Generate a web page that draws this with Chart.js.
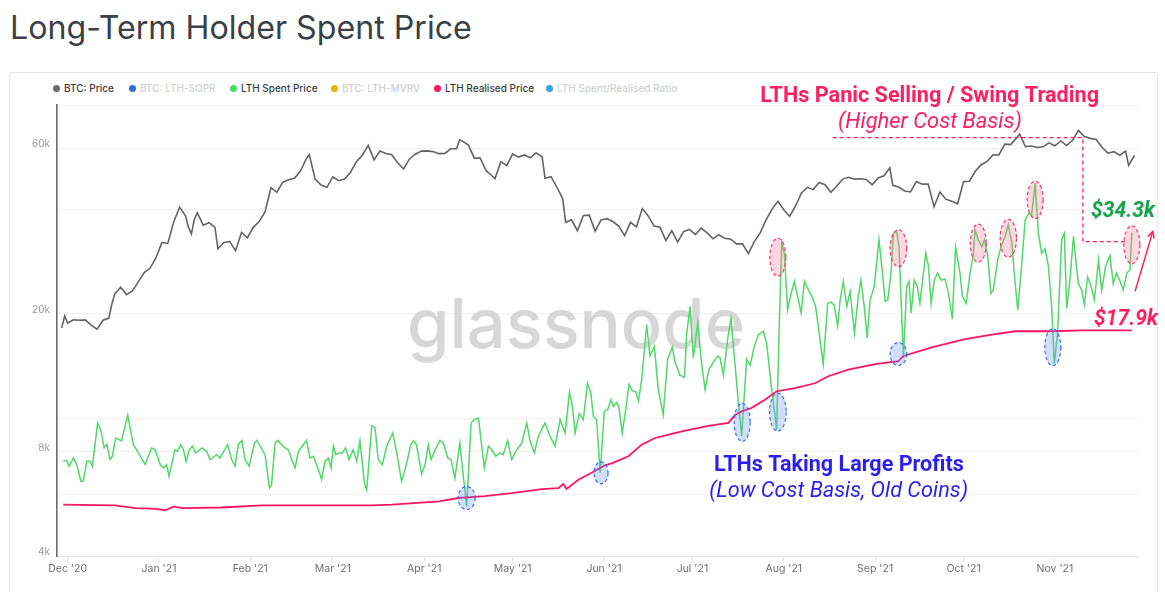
<!DOCTYPE html>
<html><head><meta charset="utf-8">
<script src="https://cdn.jsdelivr.net/npm/chart.js@4.4.1/dist/chart.umd.min.js"></script>
<style>
html,body{margin:0;padding:0;background:#fff;width:1165px;height:592px;overflow:hidden;font-family:Inter,Roboto,sans-serif;}
#title{position:absolute;left:10px;top:8px;color:#3b3f48;font-weight:400;white-space:nowrap;line-height:1;font-family:Inter,sans-serif;}
#card{position:absolute;left:9px;top:72px;width:1147px;height:560px;border:1px solid #e8e8e8;border-radius:3px;}
#chart{position:absolute;left:0;top:0;}
.lg{position:absolute;top:82px;height:12px;font-size:10px;font-weight:500;line-height:12px;white-space:nowrap;font-family:Inter,sans-serif;}
.lg i{position:absolute;width:7px;height:7px;border-radius:50%;top:2.5px;}
</style></head><body>
<div id="title">Long-Term Holder Spent Price</div>
<div id="card"></div>
<div id="legend"></div>
<canvas id="chart" width="1165" height="592"></canvas>
<script>
// ---------------- DATA ----------------
// x values are days since 1 Dec 2020
const monthTickDays = [0, 31, 62, 90, 121, 151, 182, 212, 243, 274, 304, 335];
const monthTickLabels = ["Dec '20", "Jan '21", "Feb '21", "Mar '21", "Apr '21", "May '21", "Jun '21", "Jul '21", "Aug '21", "Sep '21", "Oct '21", "Nov '21"];
const yTickValues = [4000, 6000, 8000, 10000, 20000, 40000, 60000, 80000];
const yTickLabels = ["4k", "", "8k", "", "20k", "", "60k", ""];

const seriesNames = ["BTC: Price", "BTC: LTH-SOPR", "LTH Spent Price", "BTC: LTH-MVRV", "LTH Realised Price", "LTH Spent/Realised Ratio"];
const seriesShown = [true, false, true, false, true, false];

const priceDays = [
  -2, -1, 0, 2, 4, 6, 8, 10, 12, 14, 15, 16, 18, 20, 22, 24, 26, 28, 30,
  32, 34, 36, 38, 40, 41, 42, 43, 44, 46, 48, 50, 51, 53, 55, 57, 59, 61,
  63, 65, 67, 69, 71, 73, 75, 77, 79, 81, 82, 84, 86, 88,
  90, 92, 94, 96, 98, 100, 102, 104, 106, 108, 110, 112, 114, 116, 118, 120,
  122, 124, 126, 128, 130, 132, 133, 134, 136, 138, 140, 142, 144, 145, 147, 149,
  151, 153, 155, 157, 159, 161, 162, 164, 166, 168, 169, 171, 173, 175, 177, 179, 181,
  183, 185, 187, 189, 191, 193, 195, 197, 199, 201, 203, 205, 207, 209, 211,
  213, 215, 217, 219, 221, 223, 225, 227, 229, 231, 233, 235, 237, 239, 241,
  243, 245, 247, 249, 251, 253, 255, 257, 259, 261, 263, 265, 267, 269, 271, 273,
  275, 277, 279, 280, 282, 284, 286, 288, 290, 292, 294, 296, 298, 300, 302,
  304, 306, 308, 310, 312, 314, 316, 318, 320, 322, 323, 325, 327, 329, 331, 333,
  335, 337, 339, 341, 343, 345, 347, 349, 351, 353, 355, 357, 359, 360, 362
];
const priceValues = [
  18200, 19700, 18800, 19200, 19150, 19200, 18550, 18050, 19150, 19430, 21300, 22800, 23850, 22700, 23250, 24700, 26270, 27080, 29000,
  32100, 31900, 36800, 40600, 38300, 35500, 34000, 37400, 39100, 36000, 36600, 35500, 30800, 32100, 32300, 30400, 34300, 33100,
  35500, 36900, 39300, 46200, 44800, 47900, 48700, 49200, 51600, 56000, 57500, 48900, 47000, 46300,
  49600, 48400, 48900, 51200, 54900, 57300, 61200, 55600, 58900, 58000, 57500, 54500, 52300, 55900, 57700, 58900,
  59000, 58700, 57900, 58000, 59800, 59800, 63500, 62900, 61300, 56200, 56200, 51700, 50000, 49000, 54900, 53500,
  57800, 56600, 57400, 56400, 58200, 56700, 49200, 49700, 46400, 42900, 36700, 37300, 34700, 38400, 38500, 34600, 37300,
  37600, 36900, 35800, 33600, 36700, 35600, 40200, 38300, 35800, 35500, 32500, 34700, 32200, 34500, 35000,
  33800, 35300, 34200, 32900, 33800, 33000, 32800, 31800, 31800, 29800, 32300, 34200, 37300, 40000, 42200,
  39900, 38200, 40900, 44600, 46300, 45600, 47800, 47100, 44800, 46700, 48900, 49500, 48900, 49000, 48800, 47100,
  49300, 50000, 52700, 46900, 46400, 45200, 44900, 48100, 47300, 47300, 40700, 44900, 42800, 42200, 41500,
  48100, 48200, 51500, 53800, 55000, 57500, 57400, 61700, 61500, 64300, 66000, 60700, 60900, 60300, 60600, 62200,
  61000, 63000, 61100, 63300, 67600, 64900, 64100, 63600, 60400, 58100, 58700, 57300, 58900, 53600, 57200
];

const spentDays = [
  -1.5, -0.3, 0.5, 2.0, 3.1, 4.5, 5.3, 6.5, 7.6, 8.4, 10.2, 11.3, 12.4, 13.3, 14.4, 15.2, 16.3, 18.3, 20.4, 22.3,
  24.0, 26.3, 28.5, 29.7, 31.4, 32.5, 33.6, 34.4, 36.4, 37.3, 38.4, 39.3, 40.2, 41.3, 42.4, 43.5, 45.5, 47.2, 48.3,
  50.6, 51.7, 54.3, 55.7, 56.8, 57.9, 59.1, 60.2, 61.6, 63.4, 64.2, 67.0, 68.5, 69.2, 70.4, 71.3, 73.8, 74.9, 76.0,
  77.2, 78.3, 81.1, 82.2, 83.4, 85.1, 86.2, 87.3, 88.5, 89.4, 90.2, 91.0, 92.1, 93.2, 94.3, 95.5, 96.9, 98.1, 99.2,
  100.7, 101.5, 103.2, 104.3, 105.4, 106.8, 108.3, 110.3, 111.7, 113.3, 114.5, 116.5, 117.3, 118.4, 120.1, 121.3,
  122.4, 123.3, 124.7, 126.4, 127.5, 129.0, 130.1, 131.4, 133.1, 133.9, 135.4, 136.9, 138.0, 139.4, 141.4, 142.8,
  143.9, 145.3, 146.7, 147.8, 149.3, 150.7, 152.4, 154.1, 155.8, 156.9, 158.4, 159.7, 162.0, 163.7, 165.4, 167.1,
  168.8, 170.3, 171.3, 172.2, 173.6, 175.0, 176.4, 177.5, 178.4, 179.5, 180.7, 182.1, 183.3, 184.4, 185.2, 186.3,
  187.1, 188.2, 189.4, 190.5, 191.6, 192.8, 193.7, 194.8, 196.5, 197.6, 199.1, 200.4, 202.1, 203.6, 205.2, 206.1,
  207.8, 209.3, 210.1, 211.2, 212.3, 213.8, 215.2, 216.3, 217.6, 219.1, 220.6, 221.4, 222.5, 224.0, 225.1, 226.2,
  227.4, 228.7, 230.4, 231.6, 233.0, 234.4, 236.1, 237.2, 238.9, 240.6, 241.4, 242.3, 243.2, 244.3, 245.5, 246.6,
  247.7, 248.9, 250.0, 251.4, 252.5, 253.8, 255.0, 256.4, 257.9, 259.0, 260.1, 261.3, 262.1, 263.2, 264.4, 265.5,
  267.0, 268.3, 269.2, 270.3, 271.3, 272.3, 273.7, 275.3, 276.5, 277.4, 278.3, 279.4, 280.2, 281.3, 282.1, 283.6,
  284.7, 285.5, 286.2, 287.3, 288.3, 289.2, 291.2, 292.1, 293.0, 294.1, 295.2, 296.4, 297.7, 298.9, 300.2, 301.3,
  302.8, 303.6, 304.9, 306.2, 307.3, 307.9, 309.0, 310.2, 311.1, 312.2, 313.3, 314.1, 315.6, 316.7, 318.1, 319.2,
  320.4, 321.2, 322.4, 323.7, 324.9, 326.2, 327.1, 328.3, 329.4, 330.5, 331.7, 332.8, 333.9, 334.8, 335.9, 337.3,
  338.2, 339.0, 340.1, 341.3, 342.1, 343.0, 344.1, 345.0, 346.1, 347.3, 348.4, 349.8, 350.9, 352.2, 353.7, 354.8,
  355.9, 357.1, 358.2, 359.4, 360.5, 361.1
];
const spentValues = [
  7500, 7550, 7260, 7670, 7340, 6570, 6570, 7500, 7500, 7260, 9680, 9200, 8200, 8400, 7600, 7760, 8760, 8600, 10200, 8380,
  7950, 7340, 8200, 8100, 7340, 7180, 7340, 6790, 8100, 8020, 8380, 8100, 7500, 8100, 8300, 7930, 8200, 8020, 7590,
  7840, 7670, 8380, 7590, 7260, 8380, 8620, 7590, 7260, 8470, 8620, 7840, 6280, 6430, 8470, 8620, 8200, 8100, 7590,
  7180, 8020, 8620, 7670, 7760, 7100, 6640, 7500, 7670, 7180, 8300, 7840, 7930, 7930, 8200, 7590, 8100, 7500, 8600,
  6500, 6200, 9500, 9400, 7590, 7340, 8300, 9060, 7930, 6570, 7100, 8380, 8600, 8380, 6900, 7340,
  8380, 7590, 8100, 8620, 8470, 7670, 7590, 6700, 8470, 7260, 5570, 9680, 9900, 10000, 7180, 8300,
  8100, 7760, 7930, 7840, 8600, 7590, 8100, 8470, 9680, 8600, 7930, 8850, 9680, 8850, 8300, 9900,
  9060, 11860, 10800, 9060, 10300, 9900, 12600, 11900, 10100, 9900, 6950, 10450, 10600, 11300, 10800, 11100,
  10700, 9060, 10600, 12500, 12000, 11900, 11200, 12900, 18600, 15100, 16100, 12100, 10200, 14800, 16000, 14500,
  13300, 13100, 17600, 21000, 14900, 18800, 14200, 12100, 13800, 14500, 15100, 14900, 13300, 17000, 19400, 15100,
  11600, 8860, 14800, 14200, 16100, 17400, 17800, 16400, 12100, 9260, 17600, 32000, 29900, 20500, 22900, 24800,
  22500, 20100, 24800, 23400, 22500, 21000, 17600, 14300, 21400, 21600, 21200, 18400, 21800, 24800, 21000, 23200,
  17600, 22500, 25000, 21000, 17000, 21900, 24000, 32700, 26200, 21700, 21900, 26200, 34100, 34500, 31200, 14900,
  24000, 24800, 20100, 25000, 24000, 21400, 29900, 27400, 21400, 25000, 26200, 25000, 25200, 22900, 19300, 31200,
  26200, 22500, 21400, 26200, 29400, 34900, 32700, 31200, 32700, 29400, 22900, 23400, 28600, 31200, 33400, 36100,
  32000, 26200, 20500, 27400, 37300, 39000, 38500, 47600, 34100, 29900, 30800, 27400, 21000, 14300, 17600, 32700,
  34100, 20700, 25000, 33400, 28600, 24400, 23400, 21200, 25500, 24000, 21900, 28600, 23400, 27400, 29400, 24400,
  26200, 24800, 23400, 26200, 26800, 34300
];

const realisedDays = [
  -1.5, 16, 23, 30, 33, 36, 39, 52, 66, 88, 103, 110, 126, 132.6, 141.6, 150.7, 160.9, 166.5, 168.2, 169.3,
  173.3, 177.8, 182.3, 184.6, 190.3, 194.8, 199.3, 201.6, 208.4, 217.4, 224.2, 226.5, 228.7, 232.1, 236.6,
  240.6, 246.8, 253.6, 258.1, 264.9, 274.0, 281.9, 283.6, 293.2, 304.5, 313.6, 321.5, 333.9, 344.1, 361.1
];
const realisedValues = [
  5630, 5600, 5500, 5470, 5420, 5550, 5500, 5520, 5600, 5600, 5600, 5630, 5750, 5880, 5950, 6070, 6240, 6280, 6450, 6240,
  6640, 6950, 7300, 7400, 7760, 8380, 8760, 8850, 9160, 9500, 9680, 10200, 10450, 10700, 11300,
  11950, 12200, 12600, 13200, 13800, 14300, 14600, 15100, 16000, 16900, 17400, 17800, 17800, 17900, 17900
];

// ---------------- ANNOTATIONS (anchored in data space) ----------------
const C_PINK = '#ff1f5f', C_GREEN = '#16a34a', C_BLUE = '#2b1ff0';
const redEllipses = [
  {d: 241.0, v: 29100, rx: 8, ry: 19}, {d: 281.9, v: 30900, rx: 8.3, ry: 18.5},
  {d: 309.0, v: 31950, rx: 8, ry: 19}, {d: 319.2, v: 33000, rx: 8.2, ry: 19},
  {d: 328.3, v: 42600, rx: 8, ry: 18.7}, {d: 361.1, v: 31600, rx: 8, ry: 19}
];
const blueEllipses = [
  {d: 135.4, v: 5880, rx: 8.5, ry: 11.5}, {d: 181.0, v: 6950, rx: 7, ry: 11},
  {d: 228.9, v: 9720, rx: 8, ry: 19}, {d: 241.0, v: 10400, rx: 8.3, ry: 19},
  {d: 281.9, v: 15300, rx: 8.3, ry: 11.5}, {d: 334.3, v: 16000, rx: 8, ry: 18.5}
];
const texts = [
  {t: 'LTHs Panic Selling / Swing Trading', d: 292.5, v: 84500, w: 339, font: 'normal 700', color: C_PINK},
  {t: '(Higher Cost Basis)', d: 292.6, v: 71300, w: 184, font: 'italic 400', color: C_PINK},
  {t: '$34.3k', d: 358.1, v: 39400, w: 64, font: 'italic 700', color: C_GREEN},
  {t: '$17.9k', d: 359.1, v: 19200, w: 64, font: 'italic 700', color: C_PINK},
  {t: 'LTHs Taking Large Profits', d: 261.7, v: 7290, w: 250, font: 'normal 700', color: C_BLUE},
  {t: '(Low Cost Basis, Old Coins)', d: 261.6, v: 6140, w: 259, font: 'italic 400', color: C_BLUE}
];
const dashedPath = [[259.6, 64400], [344.5, 64400], [344.5, 32300], [358.8, 32300]];
const arrowLine = [[362.2, 23200], [368.2, 34500]];

// ---------------- PAGE TEXT ----------------
(function () {
  const c = document.createElement('canvas').getContext('2d');
  const el = document.getElementById('title');
  c.font = '400 100px Inter';
  const fs = 100 * 462 / c.measureText(el.textContent).width;
  c.font = '400 ' + fs + 'px Inter';
  const m = c.measureText(el.textContent);
  const asc = m.fontBoundingBoxAscent, desc = m.fontBoundingBoxDescent;
  el.style.fontSize = fs + 'px';
  el.style.top = (40 - ((fs - (asc + desc)) / 2 + asc)) + 'px';

  const dotColors = ['#6b6b6b', '#2f6fe0', '#4cd964', '#e3b800', '#ff1460', '#3aa3d8'];
  const dotX = [56.7, 132, 233, 334, 437.5, 549];
  const textX = [64, 140, 241, 342, 445, 557];
  const lg = document.getElementById('legend');
  seriesNames.forEach((n, i) => {
    const s = document.createElement('span');
    s.className = 'lg';
    s.style.left = textX[i] + 'px';
    s.style.color = seriesShown[i] ? '#3d3d3d' : '#d0d0d0';
    s.textContent = n;
    const dot = document.createElement('i');
    dot.style.background = dotColors[i];
    dot.style.left = (dotX[i] - textX[i] - 3.5) + 'px';
    s.appendChild(dot);
    lg.appendChild(s);
  });
})();

// ---------------- CHART ----------------
const toXY = (ds, vs) => ds.map((d, i) => ({x: d, y: vs[i]}));

const watermark = {
  id: 'watermark',
  beforeDatasetsDraw(chart) {
    const ctx = chart.ctx;
    ctx.save();
    ctx.font = '500 100px Inter';
    const fs = 100 * 338 / ctx.measureText('glassnode').width;
    ctx.font = '500 ' + fs + 'px Inter';
    ctx.fillStyle = '#d7d7d7';
    ctx.textAlign = 'left';
    ctx.textBaseline = 'alphabetic';
    ctx.fillText('glassnode', 407, 348);
    ctx.restore();
  }
};

const annotate = {
  id: 'annotate',
  afterDatasetsDraw(chart) {
    const ctx = chart.ctx, X = chart.scales.x, Y = chart.scales.y;
    const px = d => X.getPixelForValue(d), py = v => Y.getPixelForValue(v);
    ctx.save();
    const ell = (e, fill, stroke) => {
      ctx.beginPath();
      ctx.ellipse(px(e.d), py(e.v), e.rx, e.ry, 0, 0, Math.PI * 2);
      ctx.fillStyle = fill; ctx.fill();
      ctx.setLineDash([3.5, 2.5]); ctx.lineWidth = 1.2; ctx.strokeStyle = stroke; ctx.stroke();
    };
    redEllipses.forEach(e => ell(e, 'rgba(255,110,145,0.28)', 'rgba(240,35,95,0.9)'));
    blueEllipses.forEach(e => ell(e, 'rgba(110,150,240,0.3)', 'rgba(40,95,240,0.9)'));

    ctx.beginPath();
    dashedPath.forEach((p, i) => i ? ctx.lineTo(px(p[0]), py(p[1])) : ctx.moveTo(px(p[0]), py(p[1])));
    ctx.setLineDash([4, 3]); ctx.lineWidth = 1.3; ctx.strokeStyle = C_PINK; ctx.stroke();

    const ax0 = px(arrowLine[0][0]), ay0 = py(arrowLine[0][1]);
    const ax1 = px(arrowLine[1][0]), ay1 = py(arrowLine[1][1]);
    ctx.setLineDash([]); ctx.lineWidth = 1.5; ctx.strokeStyle = C_PINK;
    ctx.beginPath(); ctx.moveTo(ax0, ay0); ctx.lineTo(ax1, ay1); ctx.stroke();
    const ang = Math.atan2(ay1 - ay0, ax1 - ax0), h = 7;
    ctx.beginPath();
    ctx.moveTo(ax1 - h * Math.cos(ang - 0.5), ay1 - h * Math.sin(ang - 0.5));
    ctx.lineTo(ax1, ay1);
    ctx.lineTo(ax1 - h * Math.cos(ang + 0.5), ay1 - h * Math.sin(ang + 0.5));
    ctx.stroke();

    texts.forEach(t => {
      ctx.font = t.font + ' 20px Roboto';
      const fs = 20 * t.w / ctx.measureText(t.t).width;
      ctx.font = t.font + ' ' + fs + 'px Roboto';
      ctx.fillStyle = t.color;
      ctx.textAlign = 'center';
      ctx.textBaseline = 'middle';
      ctx.fillText(t.t, px(t.d), py(t.v));
    });
    ctx.restore();
  }
};

new Chart(document.getElementById('chart'), {
  type: 'line',
  data: {
    datasets: [
      {label: seriesNames[4], data: toXY(realisedDays, realisedValues), borderColor: '#ff1464', borderWidth: 1.8, pointRadius: 0, tension: 0},
      {label: seriesNames[0], data: toXY(priceDays, priceValues), borderColor: '#646464', borderWidth: 1.6, pointRadius: 0, tension: 0},
      {label: seriesNames[2], data: toXY(spentDays, spentValues), borderColor: '#52d86a', borderWidth: 1.5, pointRadius: 0, tension: 0}
    ]
  },
  options: {
    responsive: false,
    animation: false,
    events: [],
    layout: {padding: {top: 105, right: 27, left: 0, bottom: 0}},
    plugins: {legend: {display: false}, tooltip: {enabled: false}},
    scales: {
      x: {
        type: 'linear', min: -3.6, max: 363.2,
        afterBuildTicks: s => { s.ticks = monthTickDays.map(v => ({value: v})); },
        afterFit: s => { s.height = 36; },
        grid: {drawOnChartArea: false, drawTicks: true, tickLength: 6, color: '#e3e3e3'},
        border: {display: true, color: '#e8e8e8', width: 1},
        ticks: {autoSkip: false, maxRotation: 0, padding: 1, color: '#6f6f6f', font: {family: 'Inter', size: 10.5},
          callback: v => monthTickLabels[monthTickDays.indexOf(v)]}
      },
      y: {
        type: 'logarithmic', min: 4000, max: 80000,
        afterBuildTicks: s => { s.ticks = yTickValues.map(v => ({value: v})); },
        afterFit: s => { s.width = 57; },
        grid: {color: '#f1f1f1', drawTicks: false},
        border: {display: true, color: '#6a6a6a', width: 1.6},
        ticks: {padding: 7, labelOffset: -4, color: '#9a9a9a', font: {family: 'Inter', size: 10},
          callback: v => { const i = yTickValues.indexOf(v); return i >= 0 ? yTickLabels[i] : ''; }}
      }
    }
  },
  plugins: [watermark, annotate]
});
</script></body></html>
